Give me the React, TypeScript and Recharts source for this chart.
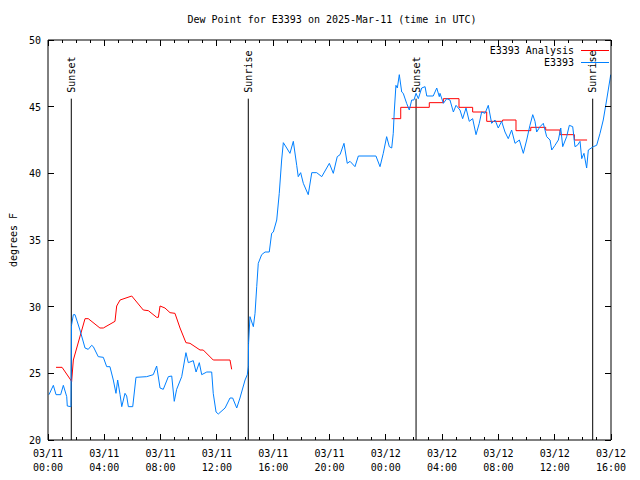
import React from 'react';
import { LineChart, Line, XAxis, YAxis, ReferenceLine, ReferenceDot } from 'recharts';

const FONT = '"DejaVu Sans Mono", "Liberation Mono", monospace';

// hours since 03/11 00:00 UTC
const hourTicks = [0, 1, 2, 3, 4, 5, 6, 7, 8, 9, 10, 11, 12, 13, 14, 15, 16, 17, 18, 19, 20, 21, 22, 23, 24, 25, 26, 27, 28, 29, 30, 31, 32, 33, 34, 35, 36, 37, 38, 39, 40];
const tickDates = ['03/11', '03/11', '03/11', '03/11', '03/11', '03/11', '03/12', '03/12', '03/12', '03/12', '03/12'];
const tickTimes = ['00:00', '04:00', '08:00', '12:00', '16:00', '20:00', '00:00', '04:00', '08:00', '12:00', '16:00'];
const yTicks = [20, 25, 30, 35, 40, 45, 50];

const sunEvents = [
  { h: 1.655, label: 'Sunset' },
  { h: 14.23, label: 'Sunrise' },
  { h: 26.15, label: 'Sunset' },
  { h: 38.7, label: 'Sunrise' },
];
const sunLineTop = 45.6;

// E3393 observations [hour, degF]
const obsHours = [
  0.07, 0.38, 0.57, 0.9, 1.09, 1.33, 1.37, 1.63, 1.67, 1.8, 1.92, 2.27, 2.63, 2.86, 3.1, 3.22, 3.57, 3.93, 4.17, 4.4,
  4.64, 4.83, 4.95, 5.12, 5.24, 5.47, 5.59, 5.71, 6.02, 6.25, 7.01, 7.48, 7.72, 7.96, 8.19, 8.55, 8.79, 8.97, 9.14, 9.5,
  9.8, 9.97, 10.32, 10.52, 10.75, 10.92, 11.28, 11.63, 11.74, 11.94, 12.1, 12.58, 12.93, 13.12, 13.41, 13.64, 14.0, 14.16, 14.23, 14.25,
  14.35, 14.59, 14.71, 14.83, 14.94, 15.18, 15.42, 15.72, 15.89, 16.01, 16.25, 16.43, 16.6, 16.72, 16.96, 17.19, 17.43, 17.67, 17.78, 17.95,
  18.14, 18.49, 18.74, 19.09, 19.45, 19.99, 20.27, 20.55, 20.75, 21.03, 21.26, 21.46, 21.81, 22.05, 23.3, 23.59, 23.82, 24.06, 24.25, 24.42,
  24.53, 24.6, 24.72, 24.82, 24.96, 25.13, 25.24, 25.48, 25.67, 25.84, 26.0, 26.15, 26.31, 26.55, 26.79, 26.91, 27.37, 27.62, 27.8, 27.85,
  28.09, 28.33, 28.56, 28.8, 28.99, 29.27, 29.46, 29.7, 29.93, 30.17, 30.41, 30.64, 30.81, 31.05, 31.28, 31.52, 31.76, 31.99, 32.23, 32.47,
  32.7, 32.94, 33.18, 33.49, 33.77, 34.01, 34.24, 34.44, 34.6, 34.72, 34.96, 35.19, 35.43, 35.67, 35.79, 36.02, 36.26, 36.43, 36.57, 36.85,
  37.04, 37.28, 37.44, 37.61, 37.8, 37.92, 38.08, 38.27, 38.39, 38.74, 38.98, 39.22, 39.45, 39.69, 39.98,
];
const obsValues = [
  23.4, 24.1, 23.4, 23.4, 24.1, 23.25, 22.55, 22.5, 28.6, 29.4, 29.4, 28.25, 26.9, 26.8, 27.1, 27.0, 26.25, 26.2, 25.5, 25.5,
  24.5, 23.5, 24.5, 23.4, 22.5, 23.5, 23.3, 22.5, 22.5, 24.7, 24.75, 24.9, 25.55, 23.9, 23.8, 24.75, 24.8, 22.9, 23.8, 24.75,
  26.55, 25.8, 25.95, 25.1, 25.8, 24.9, 25.1, 25.1, 23.5, 22.1, 21.95, 22.4, 23.15, 23.15, 22.4, 23.15, 24.5, 24.9, 25.5, 27.25,
  29.25, 28.5, 29.5, 31.5, 33.25, 33.9, 34.1, 34.1, 35.5, 35.6, 36.5, 38.5, 41.0, 42.3, 41.9, 41.5, 42.4, 40.6, 39.75, 40.05,
  39.25, 38.4, 40.05, 40.05, 39.75, 40.75, 40.0, 41.25, 41.4, 42.25, 40.75, 40.9, 40.5, 41.3, 41.3, 40.5, 41.5, 42.75, 42.0, 41.9,
  43.0, 44.6, 46.6, 46.4, 47.4, 46.1, 46.0, 45.25, 44.75, 45.5, 45.5, 46.0, 45.6, 46.4, 46.5, 45.8, 45.8, 46.4, 45.75, 46.0,
  45.25, 45.6, 45.5, 44.6, 45.1, 44.75, 44.1, 44.9, 43.9, 44.1, 42.9, 43.75, 44.6, 44.5, 45.1, 43.75, 44.0, 43.4, 43.9, 43.1,
  42.6, 43.25, 42.25, 42.5, 41.5, 42.5, 43.6, 44.4, 43.9, 43.1, 43.5, 43.75, 42.75, 42.5, 41.75, 42.1, 42.5, 43.4, 42.0, 42.75,
  43.6, 43.5, 42.0, 42.1, 42.4, 41.1, 41.5, 40.4, 41.75, 42.0, 42.1, 43.0, 44.0, 45.5, 47.4,
];

// E3393 Analysis, first day (connected)
const anaHours1 = [0.57, 1.0, 1.68, 1.8, 2.63, 2.86, 3.69, 3.93, 4.76, 4.88, 5.12, 5.95, 6.77, 7.13, 7.72, 7.84, 7.96, 8.31, 8.67, 9.02, 9.38, 9.8, 10.09, 10.8, 11.03, 11.74, 12.93, 13.05];
const anaValues1 = [25.45, 25.45, 24.4, 26.0, 29.1, 29.1, 28.4, 28.4, 28.9, 30.05, 30.5, 30.8, 29.75, 29.7, 29.2, 29.2, 30.05, 29.9, 29.55, 29.5, 28.4, 27.3, 27.25, 26.75, 26.75, 26.0, 26.0, 25.3];

// E3393 Analysis, second day (stepped)
const anaHours2 = [24.42, 25.06, 27.09, 28.09, 29.2, 30.17, 31.17, 32.3, 33.25, 34.3, 35.36, 36.38, 37.4, 38.3];
const anaValues2 = [44.1, 44.95, 45.3, 45.6, 44.95, 44.6, 43.9, 44.0, 43.2, 43.45, 43.25, 42.9, 42.5, 42.5];

const obsData = obsHours.map((h, i) => ({ h, v: obsValues[i] }));
const anaData1 = anaHours1.map((h, i) => ({ h, v: anaValues1[i] }));
const anaData2 = anaHours2.map((h, i) => ({ h, v: anaValues2[i] }));

const RED = '#ff0000';
const BLUE = '#0080ff';

const BottomTick = (props: any) => {
  const { x, y, payload } = props;
  const v = payload.value as number;
  const major = v % 4 === 0;
  const idx = v / 4;
  return (
    <g>
      <line x1={x} y1={y} x2={x} y2={y - (major ? 6 : 3)} stroke="#000" shapeRendering="crispEdges" />
      {major && (
        <text x={x} y={y + 17} textAnchor="middle" fontFamily={FONT} fontSize={10} fill="#000">{tickDates[idx]}</text>
      )}
      {major && (
        <text x={x} y={y + 31} textAnchor="middle" fontFamily={FONT} fontSize={10} fill="#000">{tickTimes[idx]}</text>
      )}
    </g>
  );
};

const TopTick = (props: any) => {
  const { x, y, payload } = props;
  const major = (payload.value as number) % 4 === 0;
  return <line x1={x} y1={y} x2={x} y2={y + (major ? 6 : 3)} stroke="#000" shapeRendering="crispEdges" />;
};

const LeftTick = (props: any) => {
  const { x, y, payload } = props;
  return (
    <g>
      <line x1={x} y1={y} x2={x + 6} y2={y} stroke="#000" shapeRendering="crispEdges" />
      <text x={x - 7} y={y + 4} textAnchor="end" fontFamily={FONT} fontSize={10} fill="#000">{payload.value}</text>
    </g>
  );
};

const RightTick = (props: any) => {
  const { x, y } = props;
  return <line x1={x} y1={y} x2={x - 6} y2={y} stroke="#000" shapeRendering="crispEdges" />;
};

const sunLabelShape = (text: string) => (props: any) => {
  const x = props.cx ?? 0;
  const y = (props.cy ?? 0) - 6;
  return (
    <text
      x={x}
      y={y}
      transform={`rotate(-90 ${x} ${y})`}
      textAnchor="start"
      dy="0.35em"
      fontFamily={FONT}
      fontSize={10}
      fill="#000"
    >
      {text}
    </text>
  );
};

export default function App() {
  return (
    <div style={{ position: 'absolute', left: 0, top: 0, width: 640, height: 480, background: '#fff' }}>
      <LineChart width={640} height={480} margin={{ top: 0, right: 0, bottom: 0, left: 0 }}>
        <XAxis
          xAxisId={0}
          type="number"
          dataKey="h"
          domain={[0, 40]}
          ticks={hourTicks}
          interval={0}
          height={40}
          tickSize={0}
          tickMargin={0}
          tick={<BottomTick />}
          axisLine={{ stroke: '#000' }}
          allowDataOverflow
        />
        <XAxis
          xAxisId="top"
          orientation="top"
          type="number"
          dataKey="h"
          domain={[0, 40]}
          ticks={hourTicks}
          interval={0}
          height={40}
          tickSize={0}
          tickMargin={0}
          tick={<TopTick />}
          axisLine={{ stroke: '#000' }}
          allowDataOverflow
        />
        <YAxis
          yAxisId={0}
          type="number"
          domain={[20, 50]}
          ticks={yTicks}
          interval={0}
          width={48}
          tickSize={0}
          tickMargin={0}
          tick={<LeftTick />}
          axisLine={{ stroke: '#000' }}
          allowDataOverflow
        />
        <YAxis
          yAxisId="right"
          orientation="right"
          type="number"
          domain={[20, 50]}
          ticks={yTicks}
          interval={0}
          width={29}
          tickSize={0}
          tickMargin={0}
          tick={<RightTick />}
          axisLine={{ stroke: '#000' }}
          allowDataOverflow
        />
        {sunEvents.map((s, i) => (
          <ReferenceLine
            key={`l${i}`}
            xAxisId={0}
            yAxisId={0}
            segment={[{ x: s.h, y: 20 }, { x: s.h, y: sunLineTop }]}
            stroke="#000"
            strokeWidth={1}
          />
        ))}
        {sunEvents.map((s, i) => (
          <ReferenceDot
            key={`d${i}`}
            xAxisId={0}
            yAxisId={0}
            x={s.h}
            y={sunLineTop}
            r={0}
            shape={sunLabelShape(s.label)}
          />
        ))}
        <Line data={anaData1} dataKey="v" type="linear" stroke={RED} strokeWidth={1} dot={false} isAnimationActive={false} name="E3393 Analysis" />
        <Line data={anaData2} dataKey="v" type="stepAfter" stroke={RED} strokeWidth={1} dot={false} isAnimationActive={false} name="E3393 Analysis" />
        <Line data={obsData} dataKey="v" type="linear" stroke={BLUE} strokeWidth={1} dot={false} isAnimationActive={false} name="E3393" />
        <text x={332} y={23} textAnchor="middle" fontFamily={FONT} fontSize={10} fill="#000">
          Dew Point for E3393 on 2025-Mar-11 (time in UTC)
        </text>
        <text x={13} y={240} transform="rotate(-90 13 240)" textAnchor="middle" dy="0.35em" fontFamily={FONT} fontSize={10} fill="#000">
          degrees F
        </text>
        <text x={574} y={54} textAnchor="end" fontFamily={FONT} fontSize={10} fill="#000">E3393 Analysis</text>
        <line x1={581} y1={50.5} x2={609} y2={50.5} stroke={RED} strokeWidth={1} />
        <text x={574} y={66} textAnchor="end" fontFamily={FONT} fontSize={10} fill="#000">E3393</text>
        <line x1={581} y1={62.5} x2={609} y2={62.5} stroke={BLUE} strokeWidth={1} />
      </LineChart>
    </div>
  );
}
